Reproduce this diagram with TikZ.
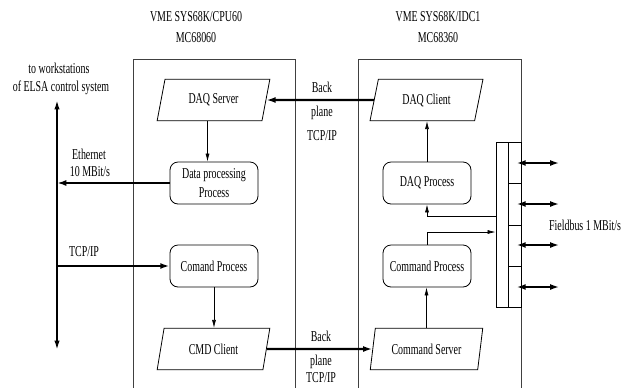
\documentclass[tikz,border=0pt]{standalone}
\usepackage{fontspec}
\setmainfont{Liberation Serif}[FakeStretch=0.66]
\usetikzlibrary{shapes.geometric,arrows.meta}

\tikzset{
  para/.style={draw, trapezium, trapezium left angle=72, trapezium right angle=108,
    trapezium stretches=true, minimum width=84.75pt, minimum height=31pt, inner sep=0pt, line width=0.6pt},
  proc/.style={draw, rounded corners=6pt, minimum width=66pt, minimum height=31.5pt,
    align=center, inner sep=0pt, line width=0.6pt},
  lbl/.style={inner sep=0pt, align=center},
  sig/.style={line width=0.5pt, -{Latex[length=6pt,width=3pt]}},
  link/.style={line width=1.6pt, -{Latex[length=7pt,width=4.5pt]}},
}

\begin{document}
\begin{tikzpicture}[x=0.75pt,y=0.75pt,yscale=-1,xscale=1,
  every node/.style={font=\fontsize{11.3pt}{14pt}\selectfont}]
\useasboundingbox (0,0) rectangle (629,387);

%Shape: CPU board
\draw [line width=0.5pt, black!75] (133,392) -- (133,59) -- (295,59) -- (295,392);
%Shape: IDC board
\draw [line width=0.5pt, black!75] (358,392) -- (358,59) -- (521,59) -- (521,392);

% Text Node
\node (cpu)  [lbl] at (196,17) {VME SYS68K/CPU60};
\node (cpuc) [lbl] at (196,38) {MC68060};
\node (idc)  [lbl] at (438,17) {VME SYS68K/IDC1};
\node (idcc) [lbl] at (438,38) {MC68360};

% CPU60 side
\node (dsrv)  [para] at (213.5,100) {DAQ Server};
\node (dproc) [proc] at (214,183) {Data processing\\Process};
\node (cproc) [proc] at (214,266) {Comand Process};
\node (cmdc)  [para] at (213.5,349) {CMD Client};

% IDC1 side
\node (dcli) [para] at (426.5,100) {DAQ Client};
\node (daqp) [proc] at (427,183) {DAQ Process};
\node (comp) [proc] at (427,266) {Command Process};
\node (csrv) [para] at (426.5,349) {Command Server};

% Fieldbus connector
\node (fb) [draw, line width=0.6pt, minimum width=18.75pt, minimum height=123.75pt, inner sep=0pt] at (508.5,224.5) {};
\draw [line width=0.6pt] (508,142) -- (508,307);
\foreach \y in {183,225,266}
  \draw [line width=0.6pt] (508,\y) -- (fb.east |- 0,\y);
\foreach \y in {163,204,245,287}
  \draw [link, {Latex[length=7pt,width=4.5pt]}-{Latex[length=7pt,width=4.5pt]}] ([xshift=-3.75pt]fb.east |- 0,\y) -- ++(32.25pt,0);
\node (fbl) [lbl] at (585,225) {Fieldbus 1 MBit/s};

% Ethernet bus
\coordinate (bustop) at (57,100);
\coordinate (busbot) at (57,350);
\draw [line width=1.3pt, {Latex[length=7pt,width=4pt]}-{Latex[length=7pt,width=4pt]}] (bustop) -- (busbot);
\node (ws1) [lbl] at (59,68) {to workstations};
\node (ws2) [lbl] at (61,88) {of ELSA control system};
\node (eth1) [lbl] at (89,154) {Ethernet};
\node (eth2) [lbl] at (90,172) {10 MBit/s};
\node (tcp)  [lbl] at (84,252) {TCP/IP};

% Backplane labels
\node (bp1) [lbl] at (322,87)  {Back};
\node (bp2) [lbl] at (322,113) {plane};
\node (bp3) [lbl] at (322,136) {TCP/IP};
\node (bp4) [lbl] at (321,336) {Back};
\node (bp5) [lbl] at (321,362) {plane};
\node (bp6) [lbl] at (321,378) {TCP/IP};

% Connections
\draw [sig] ([xshift=-4.5pt]dsrv.south) -- ([xshift=-4.5pt]dsrv.south |- dproc.north);
\draw [sig] (cproc.south) -- (cproc.south |- cmdc.north);
\draw [sig] (daqp.north) -- (daqp.north |- dcli.south);
\draw [sig] (csrv.north) -- (csrv.north |- comp.south);
\draw [sig] (fb.west |- 0,216) -| (daqp.south);
\draw [sig] (comp.north) |- (fb.west |- 0,232);
\draw [link] (dcli.west) -- (dsrv.east);
\draw [link] (cmdc.east) -- (csrv.west);
\draw [link] (dproc.west) -- (dproc.west -| bustop);
\draw [link] (cproc.west -| bustop) -- (cproc.west);

\end{tikzpicture}
\end{document}
